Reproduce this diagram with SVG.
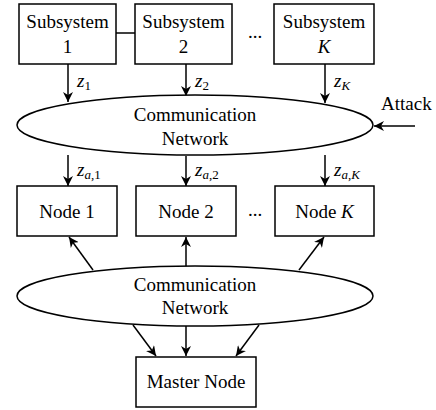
<svg xmlns="http://www.w3.org/2000/svg" width="436" height="410" viewBox="0 0 436 410" font-family="Liberation Serif, Times New Roman, serif" font-size="19">
<style>
.box{fill:#fff;stroke:#000;stroke-width:1.5}
.ell{fill:#fff;stroke:#000;stroke-width:1.5}
.ln{stroke:#000;stroke-width:1.5;fill:none}
.arr{stroke:#000;stroke-width:1.5;fill:none;marker-end:url(#ah)}
</style>
<defs>
<marker id="ah" viewBox="0 0 10 10" refX="10" refY="5" markerWidth="10" markerHeight="10" markerUnits="userSpaceOnUse" orient="auto">
<path d="M0,0 L10,5 L0,10 L3,5 Z" fill="#000"/>
</marker>
</defs>
<g id="connectors">
<line class="ln" x1="116" y1="33" x2="135" y2="33"/>
<line class="arr" x1="68" y1="64" x2="68" y2="102"/>
<line class="arr" x1="186" y1="64" x2="186" y2="96"/>
<line class="arr" x1="325" y1="64" x2="325" y2="103"/>
<line class="arr" x1="415" y1="126" x2="374" y2="126"/>
<line class="arr" x1="68" y1="155" x2="68" y2="186"/>
<line class="arr" x1="186" y1="156" x2="186" y2="186"/>
<line class="arr" x1="325" y1="155" x2="325" y2="186"/>
<line class="arr" x1="93" y1="270" x2="69" y2="237"/>
<line class="arr" x1="186" y1="267" x2="186" y2="237"/>
<line class="arr" x1="299" y1="270" x2="324" y2="237"/>
<line class="arr" x1="133" y1="325" x2="156" y2="356"/>
<line class="arr" x1="186" y1="326" x2="186" y2="356"/>
<line class="arr" x1="259" y1="325" x2="236" y2="356"/>
</g>
<g id="labels">
<text font-style="italic" x="77" y="87">z<tspan font-size="13" font-style="normal" dy="3">1</tspan></text>
<text font-style="italic" x="195" y="87">z<tspan font-size="13" font-style="normal" dy="3">2</tspan></text>
<text font-style="italic" x="334" y="87">z<tspan font-size="13" dy="3">K</tspan></text>
<text font-style="italic" x="77" y="176">z<tspan font-size="13" dy="3">a</tspan><tspan font-size="13" font-style="normal">,1</tspan></text>
<text font-style="italic" x="195" y="176">z<tspan font-size="13" dy="3">a</tspan><tspan font-size="13" font-style="normal">,2</tspan></text>
<text font-style="italic" x="334" y="176">z<tspan font-size="13" dy="3">a</tspan><tspan font-size="13" font-style="normal">,</tspan><tspan font-size="13">K</tspan></text>
<text x="381" y="110">Attack</text>
<text text-anchor="middle" x="255" y="38">...</text>
<text text-anchor="middle" x="255" y="216">...</text>
</g>
<g id="sub1" text-anchor="middle"><rect class="box" x="19" y="4" width="97" height="60"/><text x="67.5" y="28">Subsystem</text><text x="67.5" y="53">1</text></g>
<g id="sub2" text-anchor="middle"><rect class="box" x="135" y="4" width="97" height="60"/><text x="183.5" y="28">Subsystem</text><text x="183.5" y="53">2</text></g>
<g id="subK" text-anchor="middle"><rect class="box" x="274" y="4" width="100" height="60"/><text x="324" y="28">Subsystem</text><text x="324" y="53" font-style="italic">K</text></g>
<g id="net1" text-anchor="middle"><ellipse class="ell" cx="195" cy="125" rx="178" ry="30"/><text x="195" y="121">Communication</text><text x="195" y="145">Network</text></g>
<g id="node1" text-anchor="middle"><rect class="box" x="17" y="186" width="100" height="50"/><text x="67" y="218">Node 1</text></g>
<g id="node2" text-anchor="middle"><rect class="box" x="136" y="186" width="100" height="50"/><text x="186" y="218">Node 2</text></g>
<g id="nodeK" text-anchor="middle"><rect class="box" x="275" y="186" width="99" height="50"/><text x="324.5" y="218">Node <tspan font-style="italic">K</tspan></text></g>
<g id="net2" text-anchor="middle"><ellipse class="ell" cx="195" cy="296" rx="178" ry="30"/><text x="195" y="291">Communication</text><text x="195" y="314">Network</text></g>
<g id="master" text-anchor="middle"><rect class="box" x="136" y="357" width="120" height="50"/><text x="196" y="388">Master Node</text></g>
</svg>
